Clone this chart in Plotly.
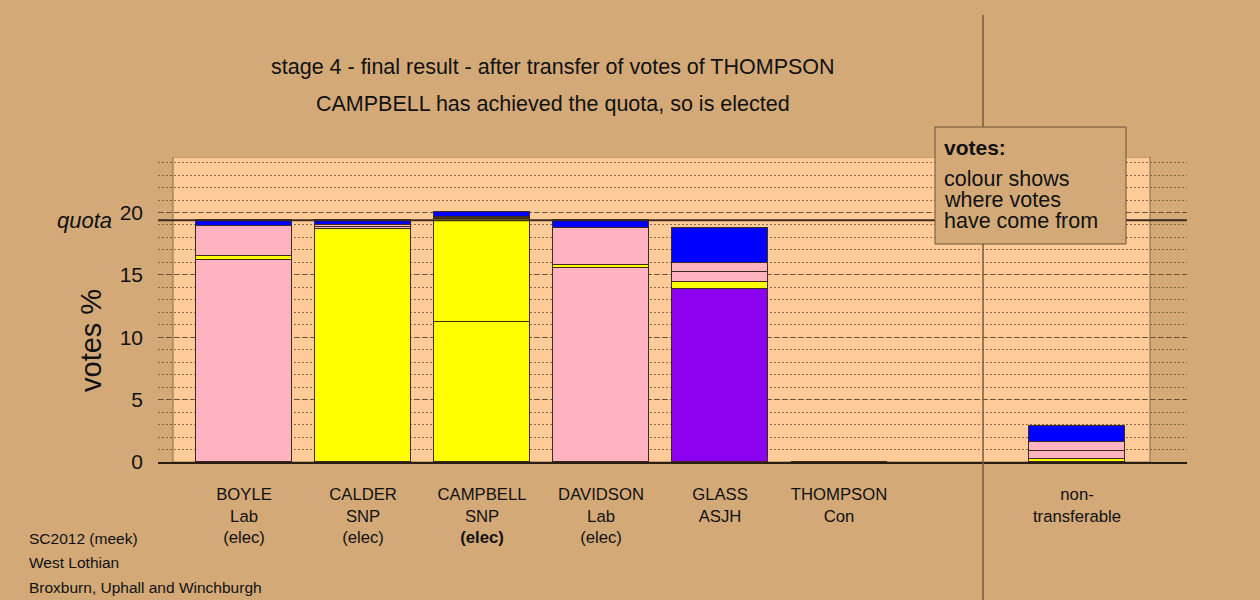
import plotly.graph_objects as go

# ---------------- data ----------------
candidates = ["BOYLE", "CALDER", "CAMPBELL", "DAVIDSON", "GLASS", "THOMPSON", "non-"]
parties = ["Lab", "SNP", "SNP", "Lab", "ASJH", "Con", ""]
status = ["(elec)", "(elec)", "(elec)", "(elec)", "", "", ""]
# votes % by origin, stacked bottom to top
own_votes = [16.23, 18.71, 11.20, 15.55, 13.90, 0.0, 0.0]
from_calder = [0.27, 0.0, 8.32, 0.28, 0.55, 0.0, 0.24]
from_boyle = [0.0, 0.13, 0.05, 2.89, 0.80, 0.0, 0.67]
from_davidson = [2.39, 0.16, 0.05, 0.0, 0.74, 0.0, 0.67]
from_thompson = [0.49, 0.38, 0.43, 0.66, 2.77, 0.0, 1.31]
quota = 19.38

stage_title = "stage 4 - final result - after transfer of votes of THOMPSON"
stage_sub = "CAMPBELL has achieved the quota, so is elected"
footer = ["SC2012 (meek)", "West Lothian", "Broxburn, Uphall and Winchburgh"]
legend_lines = ["colour shows", "where votes", "have come from"]

# ---------------- styling ----------------
party_colour = {"Lab": "#FFB3C1", "SNP": "#FFFF00", "ASJH": "#8C00F0", "Con": "#0000FF", "": "#FFB3C1"}
BG = "#D3A978"
BOX = "#FFCC99"
EDGE = "#3d2b1f"
GRID = "#6b5238"
FONT = "Liberation Sans, Arial, sans-serif"

W, H = 1260, 600
ML, MR, MT, MB = 158, 73, 157, 138
pw = W - ML - MR
ph = H - MT - MB


def px(xp):
    return (xp - ML) / pw


def py(yp):
    return (H - MB - yp) / ph


xpos = [0, 1, 2, 3, 4, 5, 7]
ticktext = []
for c, p, s in zip(candidates, parties, status):
    if c == "non-":
        ticktext.append("non-<br>transferable")
        continue
    lines = [c, p]
    if s:
        lines.append("<b>" + s + "</b>" if c == "CAMPBELL" else s)
    ticktext.append("<br>".join(lines))

fig = go.Figure()
own_cols = [party_colour[p] for p in parties]
series = [
    (own_votes, own_cols),
    (from_calder, party_colour["SNP"]),
    (from_boyle, party_colour["Lab"]),
    (from_davidson, party_colour["Lab"]),
    (from_thompson, party_colour["Con"]),
]
for vals, col in series:
    fig.add_trace(go.Bar(
        x=xpos, y=vals, width=0.8,
        marker=dict(color=col, line=dict(color=EDGE, width=1)),
        showlegend=False, hoverinfo="skip",
    ))

shapes = [
    # plot box
    dict(type="rect", xref="x", yref="y", x0=-0.597, x1=7.613, y0=0, y1=24.45,
         fillcolor=BOX, line=dict(color="#8a6a48", width=1), layer="below"),
    # quota line
    dict(type="line", xref="paper", yref="y", x0=0, x1=1, y0=quota, y1=quota,
         line=dict(color="#3a2a1a", width=2), layer="above"),
    # separator
    dict(type="line", xref="x", yref="paper", x0=6.21, x1=6.21, y0=py(15), y1=py(600),
         line=dict(color="#7a5c3e", width=1.5), layer="above"),
    # legend box
    dict(type="rect", xref="paper", yref="paper", x0=px(935), x1=px(1126), y0=py(244), y1=py(127),
         fillcolor=BG, line=dict(color="#6b5238", width=1), layer="above"),
]

ann = [
    dict(text=stage_title, x=px(553), y=py(67), font=dict(size=21.5)),
    dict(text=stage_sub, x=px(553), y=py(104), font=dict(size=21.5)),
    dict(text="votes %", x=px(91), y=py(341), textangle=-90, font=dict(size=29)),
    dict(text="<i>quota</i>", x=px(114), y=quota, yref="y", xanchor="right", font=dict(size=22)),
    dict(text="<b>votes:</b>", x=px(942), y=py(147), xanchor="left", font=dict(size=21)),
]
for i, t in enumerate(legend_lines):
    ann.append(dict(text=t, x=px(942), y=py([179, 200, 221][i]), xanchor="left",
                    height=20, font=dict(size=21.5)))
for i, t in enumerate(footer):
    ann.append(dict(text=t, x=px(27), y=py([538, 562, 587][i]), xanchor="left", font=dict(size=15.5)))

annotations = []
for a in ann:
    d = dict(xref="paper", yref="paper", showarrow=False, yanchor="middle", xanchor="center")
    f = a.pop("font")
    d.update(a)
    d["font"] = dict(family=FONT, color="#111111", size=f["size"])
    annotations.append(d)

fig.update_layout(
    width=W, height=H,
    margin=dict(l=ML, r=MR, t=MT, b=MB, pad=0),
    paper_bgcolor=BG, plot_bgcolor="rgba(0,0,0,0)",
    barmode="stack", bargap=0,
    shapes=shapes, annotations=annotations,
    font=dict(family=FONT, color="#111111"),
    xaxis=dict(
        range=[-0.723, 7.924], tickmode="array", tickvals=xpos, ticktext=ticktext,
        tickfont=dict(size=16.7, family=FONT, color="#111111"),
        showgrid=False, zeroline=False, showline=True, linecolor="#2a1d12", linewidth=2,
        ticks="", ticklabelstandoff=16, fixedrange=True,
    ),
    yaxis=dict(
        range=[0, 24.45], tickmode="array", tickvals=[0, 5, 10, 15, 20],
        tickfont=dict(size=21, family=FONT, color="#111111"),
        showgrid=True, gridcolor=GRID, gridwidth=1, griddash="5px,3px",
        minor=dict(dtick=1, tick0=0, showgrid=True, gridcolor="rgba(107,82,56,0.8)", gridwidth=1, griddash="2px,2px"),
        zeroline=False, showline=False, ticks="", ticklabelstandoff=14, fixedrange=True,
    ),
)

fig.write_html(
    "out.html",
    config={"displayModeBar": False},
    post_script="document.body.style.margin='0';document.body.style.overflow='hidden';",
)
